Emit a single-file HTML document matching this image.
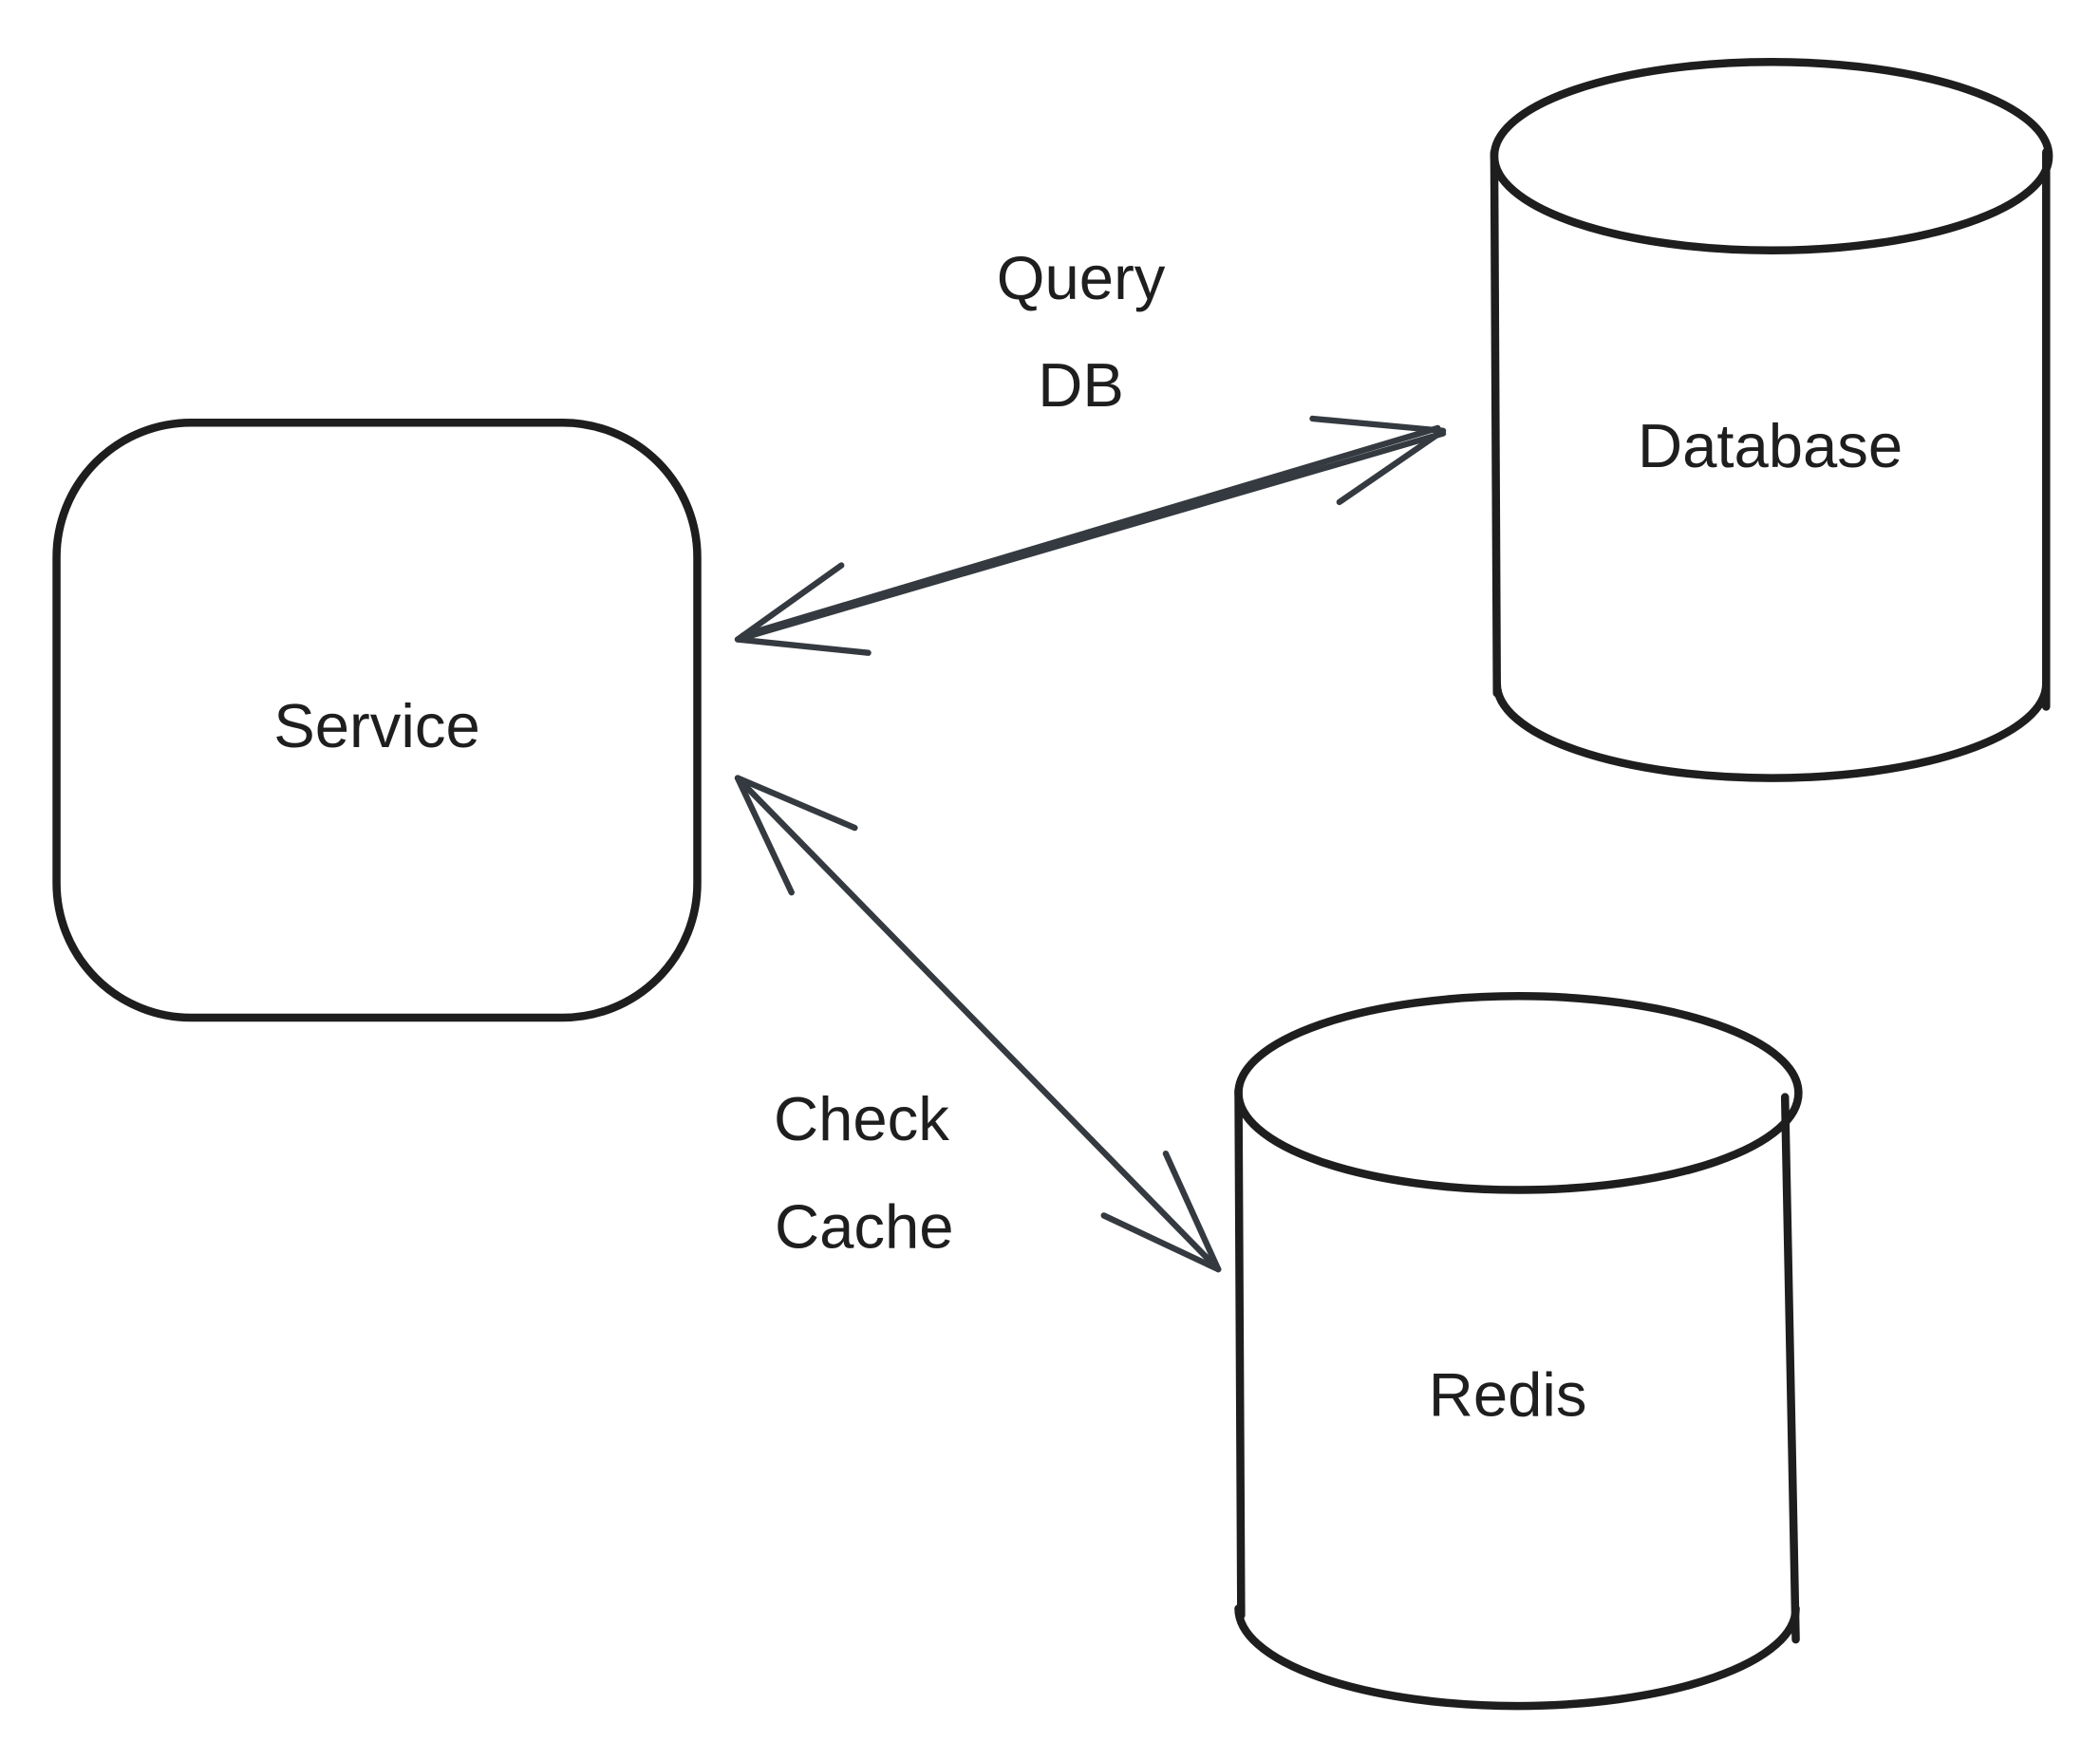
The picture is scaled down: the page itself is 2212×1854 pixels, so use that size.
<!DOCTYPE html>
<html><head><style>
html,body{margin:0;padding:0;background:#fff;}
svg{display:block}
text{font-family:"Liberation Sans","DejaVu Sans",sans-serif;fill:#1e1e1e;font-size:46px;text-anchor:middle;}
</style></head><body>
<svg width="2212" height="1854" viewBox="0 0 1560 1307.5" preserveAspectRatio="none">
<g fill="none" stroke="#1e1e1e" stroke-width="6" stroke-linecap="round">
<rect x="42" y="314" width="476" height="442" rx="100" ry="100"/>
<path d="M1110,113 L1112,515"/>
<path d="M1520,113 L1520,525"/>
<ellipse cx="1316" cy="116" rx="206" ry="70"/>
<path d="M1112,508 A204,70 0 0 0 1520,508"/>
<path d="M920,810 L922,1200"/>
<path d="M1326,815 L1334,1218"/>
<ellipse cx="1128" cy="812" rx="208" ry="72"/>
<path d="M920,1195 A206,72 0 0 0 1334,1195"/>
</g>
<g fill="none" stroke="#343a40" stroke-width="4.5" stroke-linecap="round">
<path d="M548,475 L1072,322"/>
<path d="M552,472 L1068,318"/>
<path d="M548,475 L625,420 M548,475 L645,485"/>
<path d="M1072,320 L975,311 M1072,320 L995,373"/>
<path d="M548,578 L905,943"/>
<path d="M548,578 L635,615 M548,578 L588,663"/>
<path d="M905,943 L866,857 M905,943 L820,903"/>
</g>
<text x="280" y="555">Service</text>
<text x="1315" y="347">Database</text>
<text x="1120" y="1052">Redis</text>
<text x="803" y="222">Query</text>
<text x="803" y="302">DB</text>
<text x="640" y="847">Check</text>
<text x="642" y="927">Cache</text>
</svg>
</body></html>
